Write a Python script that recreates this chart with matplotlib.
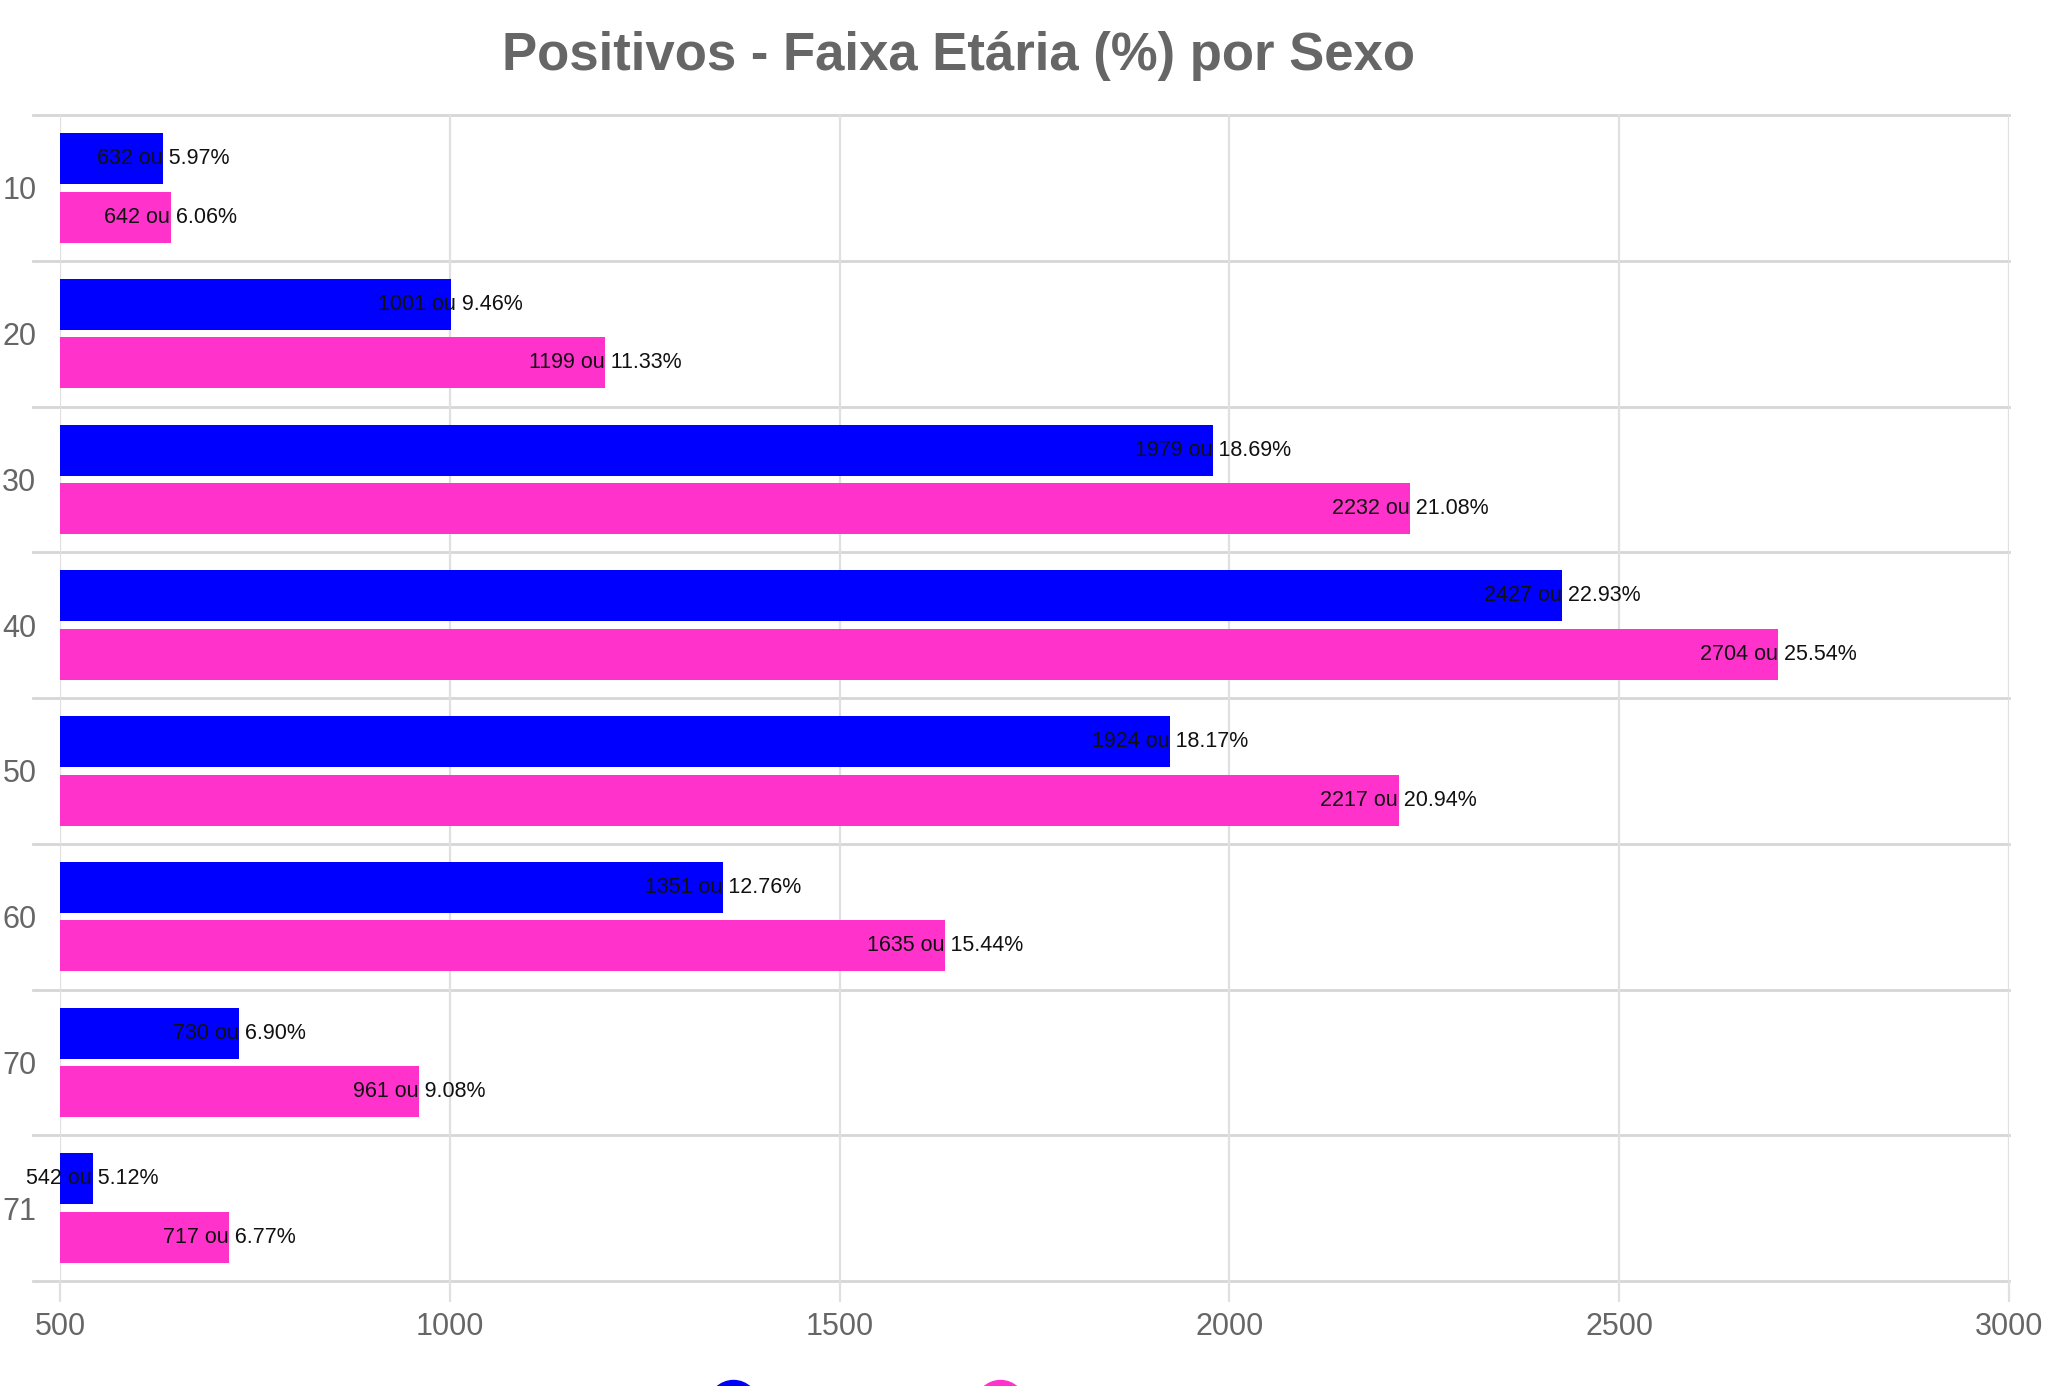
import matplotlib
matplotlib.use("Agg")
import matplotlib.pyplot as plt
from matplotlib.lines import Line2D

plt.rcParams['font.family'] = ['Liberation Sans', 'DejaVu Sans']

# Faixa etária (categorias do eixo y)
faixas = ["10", "20", "30", "40", "50", "60", "70", "71"]

# Valores por sexo
masculino = [632, 1001, 1979, 2427, 1924, 1351, 730, 542]
masc_pct = [5.97, 9.46, 18.69, 22.93, 18.17, 12.76, 6.90, 5.12]
feminino = [642, 1199, 2232, 2704, 2217, 1635, 961, 717]
fem_pct = [6.06, 11.33, 21.08, 25.54, 20.94, 15.44, 9.08, 6.77]

x_ticks = [500, 1000, 1500, 2000, 2500, 3000]

cor_masc = "#0000ff"
cor_fem = "#ff33cc"
cinza = "#666666"

fig = plt.figure(figsize=(20.52, 13.86), dpi=100)
ax = fig.add_axes([60 / 2052, 1 - 1281 / 1386, 1949 / 2052, 1166 / 1386])

x0 = x_ticks[0]
pos = list(range(len(faixas)))
h = 0.35
off = 0.2

ax.barh([p - off for p in pos], [v - x0 for v in masculino], left=x0,
        height=h, color=cor_masc, zorder=3)
ax.barh([p + off for p in pos], [v - x0 for v in feminino], left=x0,
        height=h, color=cor_fem, zorder=3)

# rótulos centrados no fim de cada barra
for p, v, pc in zip(pos, masculino, masc_pct):
    ax.text(v, p - off, f"{v} ou {pc:.2f}%", ha="center", va="center",
            fontsize=15.5, color="#111111", zorder=4)
for p, v, pc in zip(pos, feminino, fem_pct):
    ax.text(v, p + off, f"{v} ou {pc:.2f}%", ha="center", va="center",
            fontsize=15.5, color="#111111", zorder=4)

ax.set_xlim(x_ticks[0], x_ticks[-1])
ax.set_ylim(len(faixas) - 0.5, -0.5)

# linhas de separação entre faixas
for b in range(len(faixas) + 1):
    ax.axhline(b - 0.5, xmin=-0.014, xmax=1, color="#d6d6d6", lw=2,
               clip_on=False, zorder=1)

ax.set_xticks(x_ticks)
ax.grid(axis="x", color="#e0e0e0", lw=1.6, zorder=0)
ax.tick_params(axis="x", length=15, width=1.6, color="#e0e0e0",
               labelsize=22, labelcolor=cinza, pad=7)
ax.set_yticks(pos)
ax.set_yticklabels(faixas)
ax.tick_params(axis="y", length=0, labelsize=22, labelcolor=cinza, pad=17)
for s in ax.spines.values():
    s.set_visible(False)

fig.text(958 / 2052, 1 - 56 / 1386, "Positivos - Faixa Etária (%) por Sexo",
         ha="center", va="center", fontsize=38, fontweight="bold", color=cinza)

# legenda (cortada na borda inferior)
for xc, c in [(733, cor_masc), (1000, cor_fem)]:
    fig.add_artist(Line2D([xc / 2052], [1 - 1405 / 1386], marker="o",
                          markersize=36, color=c, linestyle="none"))

fig.savefig("out.png", dpi=100)
